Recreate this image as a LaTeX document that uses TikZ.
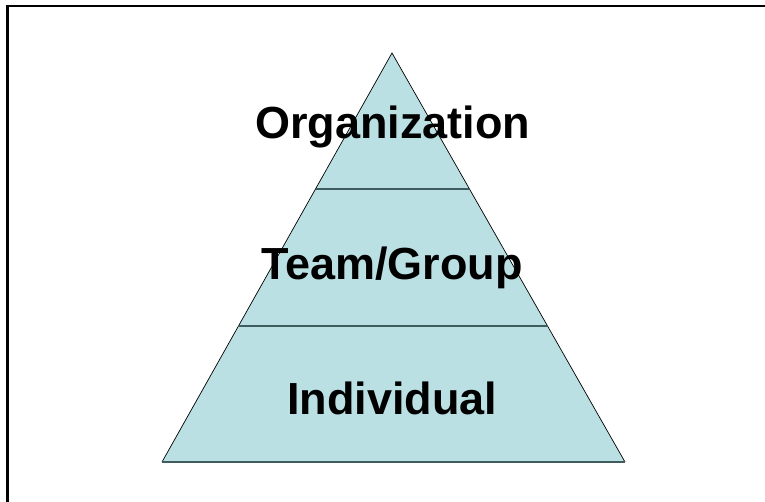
\documentclass[tikz,border=0pt]{standalone}
\usepackage{fontspec}
\setmainfont{Liberation Sans}
\usepackage{tikz}
\usetikzlibrary{positioning,calc}

\definecolor{layerfill}{HTML}{BBE0E3}
\definecolor{layerline}{HTML}{3F5C5E}

\begin{document}
\begin{tikzpicture}[-,line join=miter,
    level/.style={font=\bfseries\fontsize{32}{38}\selectfont,inner sep=0pt}]
      \useasboundingbox (0,0) rectangle (19.125,12.55);

      % frame, only top and left edges show
      \draw[line width=1.5pt] (0.1875,0) -- (0.1875,12.39) -- (19.125,12.39);

      % pyramid
      \coordinate (apex) at (9.8,11.225);
      \coordinate (bl) at (4.05,1.0);
      \coordinate (br) at (15.625,1.0);
      \fill[layerfill] (apex) -- (bl) -- (br) -- cycle;
      \draw[line width=0.5pt] (bl) -- (apex) -- (br);
      \draw[layerline,line width=1.3pt] (bl) -- (br);

      % layer dividers
      \coordinate (l1) at ($(apex)!0.3325!(bl)$);
      \coordinate (r1) at ($(apex)!0.3325!(br)$);
      \coordinate (l2) at ($(apex)!0.668!(bl)$);
      \coordinate (r2) at ($(apex)!0.668!(br)$);
      \draw[layerline,line width=1.3pt] (l1) -- (r1);
      \draw[layerline,line width=1.3pt] (l2) -- (r2);

      \node[level] (org) at (9.82,9.37) {Organization};
      \node[level] (team) at (9.8,5.85) {Team/Group};
      \node[level] (ind) at (9.8,2.6) {Individual};

    \end{tikzpicture}
\end{document}
